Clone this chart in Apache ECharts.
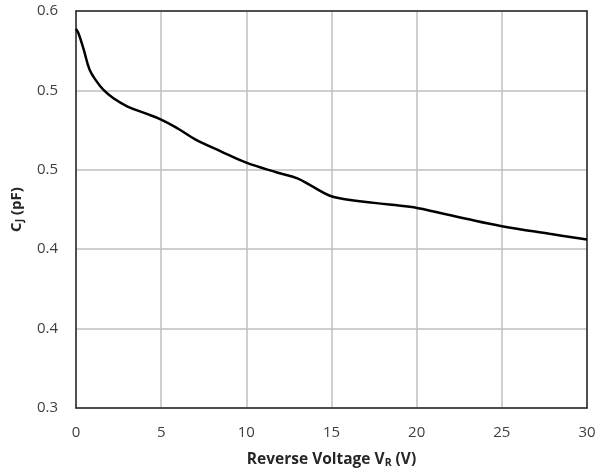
<!DOCTYPE html>
<html><head><meta charset="utf-8">
<script src="https://cdn.jsdelivr.net/npm/echarts@6/dist/echarts.min.js"></script>
<style>html,body{margin:0;padding:0;background:#fff}#c{width:604px;height:474px}</style>
</head><body><div id="c"></div>
<script>
var voltage = [0, 0.15, 0.45, 0.8, 1.2, 1.6, 2.2, 3.0, 4.0, 5.0, 6.0, 7.0, 8.5, 10.0, 11.8, 13.0, 13.8, 14.9, 15.7, 17.5, 19.6, 21.0, 22.9, 25.0, 27.8, 30.0];
var capacitance = [0.5865, 0.583, 0.571, 0.5556, 0.547, 0.5406, 0.534, 0.528, 0.523, 0.518, 0.511, 0.503, 0.494, 0.4854, 0.478, 0.4735, 0.468, 0.4604, 0.458, 0.455, 0.452, 0.4485, 0.443, 0.4374, 0.4316, 0.4273];
var xTicks = {min: 0, max: 30, interval: 5};
var yTicks = {min: 0.3, max: 0.6, interval: 0.06};

var pts = voltage.map(function (v, i) { return [v, capacitance[i]]; });
var font = 'Open Sans';
var chart = echarts.init(document.getElementById('c'));
chart.setOption({
  animation: false,
  grid: {left: 76, right: 17, top: 11, bottom: 64},
  xAxis: [{
    type: 'value', min: xTicks.min, max: xTicks.max, interval: xTicks.interval,
    name: '{b|Reverse Voltage V}{s|R}{b| (V)}', nameLocation: 'middle', nameGap: 42,
    nameTextStyle: {rich: {
      b: {fontFamily: font, fontWeight: 'bold', fontSize: 15.5, color: '#262626'},
      s: {fontFamily: font, fontWeight: 'bold', fontSize: 10.5, color: '#262626', verticalAlign: 'bottom', padding: [8, 0, 0, 0]}
    }},
    axisLine: {show: true, lineStyle: {color: '#262626', width: 1.5}},
    axisTick: {show: false},
    axisLabel: {fontFamily: font, fontSize: 15, color: '#404040', margin: 17},
    splitLine: {show: true, lineStyle: {color: '#bfbfbf', width: 1.5}}
  }, {
    type: 'value', position: 'top', min: xTicks.min, max: xTicks.max,
    axisLine: {show: true, onZero: false, lineStyle: {color: '#262626', width: 1.5}},
    axisTick: {show: false}, axisLabel: {show: false}, splitLine: {show: false}
  }],
  yAxis: [{
    type: 'value', min: yTicks.min, max: yTicks.max, interval: yTicks.interval,
    name: '{b|C}{s|J}{b| (pF)}', nameLocation: 'middle', nameGap: 48, nameRotate: 90,
    nameTextStyle: {rich: {
      b: {fontFamily: font, fontWeight: 'bold', fontSize: 15, color: '#262626'},
      s: {fontFamily: font, fontWeight: 'bold', fontSize: 10.5, color: '#262626', verticalAlign: 'bottom', padding: [8, 0, 0, 0]}
    }},
    axisLine: {show: true, lineStyle: {color: '#262626', width: 1.5}},
    axisTick: {show: false},
    axisLabel: {fontFamily: font, fontSize: 15, color: '#404040', margin: 18,
      formatter: function (v) { return v.toFixed(1); }},
    splitLine: {show: true, lineStyle: {color: '#bfbfbf', width: 1.5}}
  }, {
    type: 'value', position: 'right', min: yTicks.min, max: yTicks.max,
    axisLine: {show: true, onZero: false, lineStyle: {color: '#262626', width: 1.5}},
    axisTick: {show: false}, axisLabel: {show: false}, splitLine: {show: false}
  }],
  series: [{
    type: 'line', data: pts, smooth: 0.4, showSymbol: false,
    lineStyle: {color: '#000', width: 2.5}, z: 5
  }]
});
</script></body></html>
